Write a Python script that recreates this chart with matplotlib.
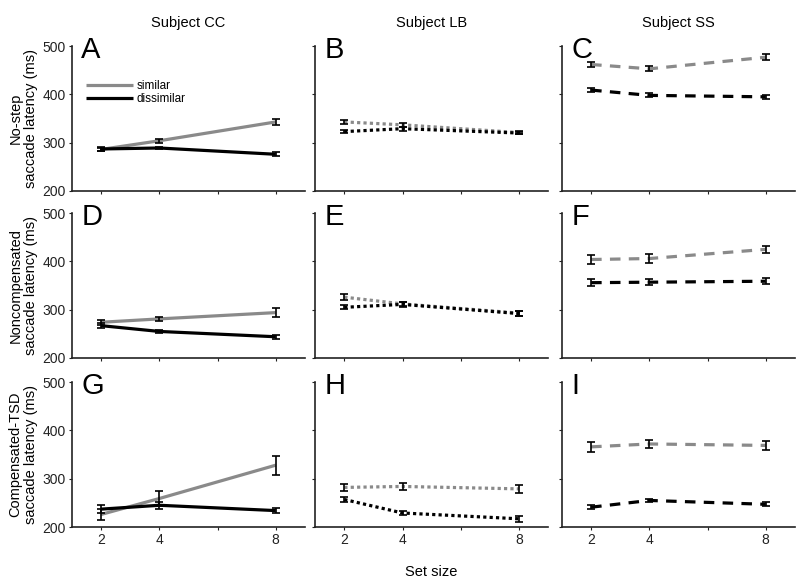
import matplotlib
matplotlib.use('Agg')
import matplotlib.pyplot as plt

plt.rcParams['font.family'] = ['Liberation Sans', 'DejaVu Sans']

# 数据
set_size = [2, 4, 8]
subjects = ['Subject CC', 'Subject LB', 'Subject SS']
conditions = ['No-step', 'Noncompensated', 'Compensated-TSD']
panel_letters = ['A', 'B', 'C', 'D', 'E', 'F', 'G', 'H', 'I']

# rows: condition, cols: subject
similar_mean = [
    [[286, 304, 343], [343, 337, 321], [462, 453, 477]],
    [[274, 281, 294], [326, 312, 293], [404, 406, 425]],
    [[226, 259, 328], [282, 284, 279], [366, 372, 369]],
]
similar_err = [
    [[4, 4, 7], [4, 4, 4], [6, 5, 6]],
    [[5, 4, 9], [6, 5, 5], [10, 9, 8]],
    [[11, 15, 20], [8, 8, 8], [10, 9, 9]],
]
dissimilar_mean = [
    [[287, 289, 276], [323, 329, 320], [409, 398, 395]],
    [[267, 255, 244], [305, 311, 292], [356, 357, 359]],
    [[237, 245, 234], [257, 229, 217], [241, 255, 247]],
]
dissimilar_err = [
    [[4, 3, 4], [3, 4, 3], [5, 4, 4]],
    [[5, 4, 4], [4, 5, 5], [7, 6, 6]],
    [[9, 7, 5], [5, 5, 6], [4, 4, 4]],
]

# 每列线型: 实线 / 点线 / 虚线
col_styles = ['-', (0, (1, 1)), (0, (3.3, 2.6))]
GRAY = '#8a8a8a'

fig = plt.figure(figsize=(8, 5.84), dpi=100)
lefts = [0.09, 0.394, 0.7025]
bottoms = [0.673, 0.387, 0.0976]
w, h = 0.291, 0.248

for r in range(3):
    for c in range(3):
        ax = fig.add_axes([lefts[c], bottoms[r], w, h])
        ls = col_styles[c]
        cap = 'butt' if c > 0 else 'projecting'
        for mean, err, color, lab in [
            (similar_mean[r][c], similar_err[r][c], GRAY, 'similar'),
            (dissimilar_mean[r][c], dissimilar_err[r][c], 'black', 'dissimilar'),
        ]:
            ax.plot(set_size, mean, color=color, lw=2.3, ls=ls,
                    dash_capstyle=cap, solid_capstyle='butt', label=lab, zorder=2)
            ax.errorbar(set_size, mean, yerr=err, fmt='none', ecolor='black',
                        elinewidth=1.2, capsize=3, capthick=1.2, zorder=3)
        ax.set_xlim(1, 9)
        ax.set_ylim(200, 500)
        ax.set_xticks([2, 4, 6, 8])
        ax.set_yticks([200, 300, 400, 500])
        for s in ['top', 'right']:
            ax.spines[s].set_visible(False)
        for s in ['left', 'bottom']:
            ax.spines[s].set_linewidth(1.2)
            ax.spines[s].set_color('#222222')
        ax.tick_params(direction='out', length=2.5, width=0.8, colors='#222222',
                       labelsize=10, pad=2)
        if r == 2:
            ax.set_xticklabels(['2', '4', '', '8'])
        else:
            ax.set_xticklabels([])
        if c == 0:
            ax.set_ylabel(conditions[r] + '\nsaccade latency (ms)', fontsize=10.5,
                          labelpad=3, linespacing=1.15)
        else:
            ax.set_yticklabels([])
        if r == 0:
            ax.set_title(subjects[c], fontsize=10.5, pad=14)
        ax.text(0.04, 1.07, panel_letters[r * 3 + c], transform=ax.transAxes,
                fontsize=21, va='top', ha='left')
        if r == 0 and c == 0:
            ax.legend(loc='upper left', bbox_to_anchor=(0.04, 0.8), frameon=False,
                      fontsize=8.5, handlelength=4.0, handletextpad=0.3,
                      labelspacing=0.1, borderaxespad=0)

fig.text(lefts[1] + w / 2, 0.008, 'Set size', ha='center', va='bottom', fontsize=10.5)

plt.savefig('out.png', dpi=100, facecolor='white')
plt.close()
